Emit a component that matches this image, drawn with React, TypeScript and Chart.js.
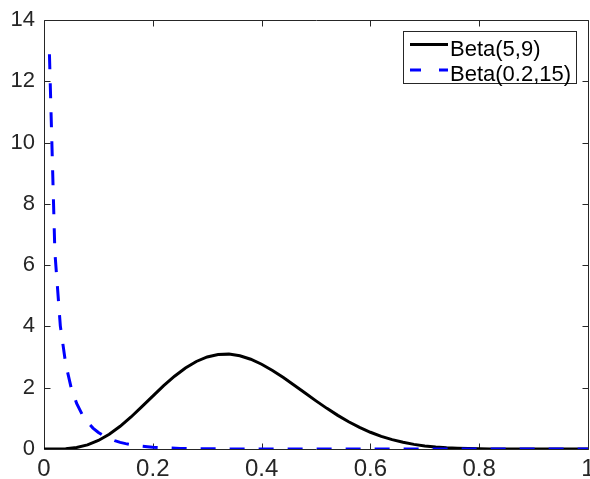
import React, { useEffect, useRef } from "react";
import { Chart, registerables } from "chart.js";

Chart.register(...registerables);

// Beta(5,9) density
const beta59X = [0, 0.02, 0.04, 0.06, 0.08, 0.1, 0.12, 0.14, 0.16, 0.18, 0.2, 0.22, 0.24, 0.26, 0.28, 0.3, 0.32, 0.34, 0.36, 0.38, 0.4, 0.42, 0.44, 0.46, 0.48, 0.5, 0.52, 0.54, 0.56, 0.58, 0.6, 0.62, 0.64, 0.66, 0.68, 0.7, 0.72, 0.74, 0.76, 0.78, 0.8, 0.82, 0.84, 0.86, 0.88, 0.9, 0.92, 0.94, 0.96, 0.98, 1];
const beta59Y = [0, 0.0009, 0.0119, 0.0508, 0.1353, 0.277, 0.4799, 0.7397, 1.0454, 1.381, 1.7274, 2.0654, 2.376, 2.6438, 2.8565, 3.0048, 3.0847, 3.0961, 3.0422, 2.9297, 2.7669, 2.5643, 2.3327, 2.0832, 1.8261, 1.571, 1.3258, 1.097, 0.889, 0.7051, 0.5466, 0.4134, 0.3046, 0.2181, 0.1513, 0.1014, 0.0653, 0.0403, 0.0236, 0.0131, 0.0068, 0.0032, 0.0014, 0.0005, 0.0002, 0.00004, 0.00001, 0, 0, 0, 0];

// Beta(0.2,15) density
const beta0215X = [0.01, 0.02, 0.03, 0.04, 0.05, 0.06, 0.07, 0.08, 0.09, 0.1, 0.11, 0.12, 0.13, 0.14, 0.15, 0.16, 0.17, 0.18, 0.19, 0.2, 0.25, 0.3, 0.35, 0.4, 0.45, 0.5, 0.6, 0.7, 0.8, 0.9, 1];
const beta0215Y = [12.88, 6.418, 4.019, 2.762, 1.995, 1.487, 1.132, 0.874, 0.683, 0.538, 0.426, 0.339, 0.271, 0.217, 0.175, 0.141, 0.113, 0.091, 0.074, 0.059, 0.02, 0.0066, 0.0021, 0.0006, 0.0002, 0.00004, 0, 0, 0, 0, 0];

const seriesLabels = ["Beta(5,9)", "Beta(0.2,15)"];
const seriesColors = ["#000000", "#0000ff"];
const xRange = [0, 1];
const yRange = [0, 14];
const xStep = 0.2;
const yStep = 2;

const FONT = "'Liberation Sans', Arial, Helvetica, sans-serif";
const AXIS_COLOR = "#262626";

const fmt = (v: any) => String(Number(Number(v).toFixed(2)));

const framePlugin = {
  id: "matlabFrame",
  beforeDatasetsDraw(chart: any) {
    const { ctx, chartArea: a, scales } = chart;
    const L = Math.round(a.left) + 0.5;
    const R = Math.round(a.right) + 0.5;
    const T = Math.round(a.top) + 0.5;
    const B = Math.round(a.bottom) + 0.5;
    ctx.save();
    ctx.strokeStyle = AXIS_COLOR;
    ctx.lineWidth = 1;
    ctx.beginPath();
    ctx.rect(L, T, R - L, B - T);
    ctx.stroke();
    const tl = 6;
    ctx.beginPath();
    scales.x.ticks.forEach((t: any) => {
      const px = Math.round(scales.x.getPixelForValue(t.value)) + 0.5;
      ctx.moveTo(px, B);
      ctx.lineTo(px, B - tl);
      ctx.moveTo(px, T);
      ctx.lineTo(px, T + tl);
    });
    scales.y.ticks.forEach((t: any) => {
      const py = Math.round(scales.y.getPixelForValue(t.value)) + 0.5;
      ctx.moveTo(L, py);
      ctx.lineTo(L + tl, py);
      ctx.moveTo(R, py);
      ctx.lineTo(R - tl, py);
    });
    ctx.stroke();
    ctx.restore();
  },
  afterDraw(chart: any) {
    const { ctx } = chart;
    ctx.save();
    // legend box
    ctx.fillStyle = "#ffffff";
    ctx.fillRect(403.5, 31.5, 173, 52);
    ctx.strokeStyle = AXIS_COLOR;
    ctx.lineWidth = 1;
    ctx.strokeRect(403.5, 31.5, 173, 52);
    const rows = [44.5, 70];
    const dashes = [[], [11, 18]];
    seriesLabels.forEach((lab, i) => {
      ctx.beginPath();
      ctx.setLineDash(dashes[i]);
      ctx.strokeStyle = seriesColors[i];
      ctx.lineWidth = 3;
      ctx.lineCap = "butt";
      ctx.moveTo(410, rows[i]);
      ctx.lineTo(448, rows[i]);
      ctx.stroke();
      ctx.setLineDash([]);
      ctx.fillStyle = "#000000";
      ctx.font = `22px ${FONT}`;
      ctx.textAlign = "left";
      ctx.textBaseline = "alphabetic";
      ctx.fillText(lab, 450, rows[i] + 11);
    });
    ctx.restore();
  },
};

export default function App() {
  const ref = useRef<HTMLCanvasElement | null>(null);

  useEffect(() => {
    if (!ref.current) return;
    const chart = new Chart(ref.current, {
      type: "line",
      data: {
        datasets: [
          {
            label: seriesLabels[0],
            data: beta59X.map((x, i) => ({ x, y: beta59Y[i] })),
            borderColor: seriesColors[0],
            borderWidth: 3,
            pointRadius: 0,
            fill: false,
            tension: 0,
            order: 1,
          },
          {
            label: seriesLabels[1],
            data: beta0215X.map((x, i) => ({ x, y: beta0215Y[i] })),
            borderColor: seriesColors[1],
            borderWidth: 3,
            borderDash: [15, 14],
            borderCapStyle: "butt",
            pointRadius: 0,
            fill: false,
            tension: 0,
            order: 0,
          },
        ],
      },
      options: {
        responsive: false,
        animation: false,
        devicePixelRatio: 1,
        layout: { padding: { top: 20, right: 2, left: 0, bottom: 0 } },
        plugins: { legend: { display: false }, tooltip: { enabled: false } },
        scales: {
          x: {
            type: "linear",
            min: xRange[0],
            max: xRange[1],
            grid: { display: false, drawTicks: false },
            border: { display: false },
            ticks: {
              stepSize: xStep,
              color: AXIS_COLOR,
              font: { family: FONT, size: 24 },
              padding: 6,
              maxRotation: 0,
              callback: fmt,
            },
            afterFit(scale: any) {
              scale.height = 30;
              scale.paddingLeft = 0;
              scale.paddingRight = 0;
            },
          },
          y: {
            type: "linear",
            min: yRange[0],
            max: yRange[1],
            grid: { display: false, drawTicks: false },
            border: { display: false },
            ticks: {
              stepSize: yStep,
              color: AXIS_COLOR,
              font: { family: FONT, size: 22 },
              padding: 9,
              callback: fmt,
            },
            afterFit(scale: any) {
              scale.width = 44;
              scale.paddingTop = 0;
              scale.paddingBottom = 0;
            },
          },
        },
      },
      plugins: [framePlugin],
    } as any);
    return () => chart.destroy();
  }, []);

  return (
    <div style={{ position: "absolute", left: 0, top: 0, width: 590, height: 479, background: "#fff" }}>
      <canvas ref={ref} width={590} height={479} style={{ display: "block" }} />
    </div>
  );
}
